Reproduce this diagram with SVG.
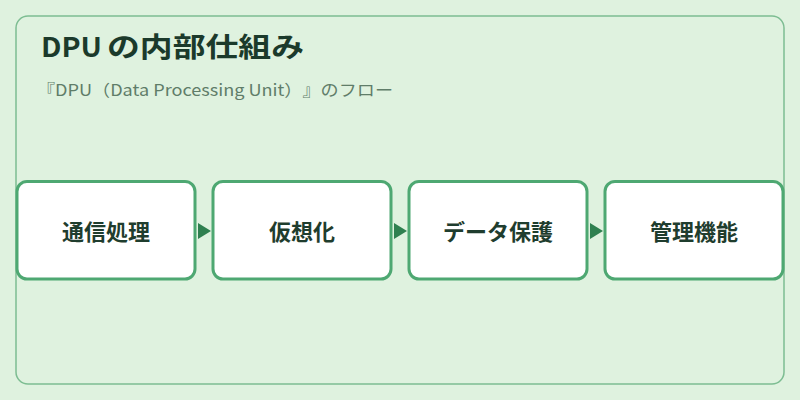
<svg xmlns="http://www.w3.org/2000/svg" width="800" height="400" viewBox="0 0 800 400">
<style>
.node rect{fill:#ffffff;stroke:#4ea872;stroke-width:3}
.label{font-family:"Noto Sans CJK JP","Noto Sans",sans-serif;font-size:22px;font-weight:bold;fill:#1f3d2e;text-anchor:middle}
.title{font-family:"Noto Sans CJK JP","Noto Sans",sans-serif;font-size:27px;font-weight:bold;fill:#1b3a2b}
.sub{font-family:"Noto Sans CJK JP","Noto Sans",sans-serif;font-size:16px;fill:#5f7d69;text-spacing-trim:space-all}
.arrow{fill:#2f8050}
</style>
<rect x="0" y="0" width="800" height="400" fill="#dff2df"/>
<rect x="16" y="16" width="768" height="368" rx="12" fill="#dff2df" stroke="#7dbd92" stroke-width="1.5"/>
<text class="title" x="41" y="57"><tspan textLength="61" lengthAdjust="spacingAndGlyphs">DPU</tspan><tspan x="107" textLength="197" lengthAdjust="spacingAndGlyphs">の内部仕組み</tspan></text>
<text class="sub" x="37" y="95.5" textLength="356" lengthAdjust="spacingAndGlyphs">『DPU（Data Processing Unit）』のフロー</text>
<g id="connectors">
<polygon class="arrow" points="198,223 211,231 198,239"/>
<polygon class="arrow" points="394,223 407,231 394,239"/>
<polygon class="arrow" points="590,223 603,231 590,239"/>
</g>
<g id="node1" class="node"><rect x="17" y="181.5" width="178" height="97.5" rx="10"/><text class="label" x="106" y="239.5">通信処理</text></g>
<g id="node2" class="node"><rect x="213" y="181.5" width="178" height="97.5" rx="10"/><text class="label" x="302" y="239.5">仮想化</text></g>
<g id="node3" class="node"><rect x="409" y="181.5" width="178" height="97.5" rx="10"/><text class="label" x="498" y="239.5">データ保護</text></g>
<g id="node4" class="node"><rect x="605" y="181.5" width="178" height="97.5" rx="10"/><text class="label" x="694" y="239.5">管理機能</text></g>
</svg>
